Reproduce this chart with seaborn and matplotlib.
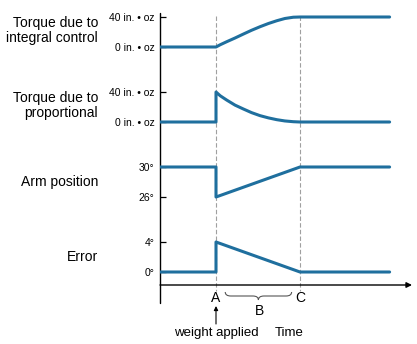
import numpy as np
import pandas as pd
import seaborn as sns
import matplotlib.pyplot as plt
from matplotlib import transforms
from matplotlib.path import Path
from matplotlib.patches import PathPatch

sns.set_theme(style="white")
plt.rcParams["font.family"] = ["Liberation Sans", "DejaVu Sans"]
plt.rcParams["text.color"] = "black"

# ---- event times (A: weight applied, C: error removed) ----
t_A, t_C, t_end, t_max = 2.0, 5.0, 8.2, 9.0

# ---- traces ----
integral_t = [0.0, 2.0, 2.15, 2.38, 2.68, 2.98, 3.27, 3.57, 3.87, 4.17, 4.46, 4.76, 5.0, 8.2]
integral_v = [0, 0, 3, 7, 12, 17.3, 22.3, 27, 31.3, 35, 38, 39.7, 40, 40]

prop_t = [0.0, 2.0, 2.0, 2.15, 2.38, 2.68, 2.98, 3.27, 3.57, 3.87, 4.17, 4.46, 4.76, 5.0, 8.2]
prop_v = [0, 0, 40, 35, 29.3, 22.5, 17.3, 12.5, 8.5, 5.5, 3.1, 1.4, 0.4, 0, 0]

arm_t = [0.0, 2.0, 2.0, 5.0, 8.2]
arm_v = [30, 30, 26, 30, 30]

err_t = [0.0, 2.0, 2.0, 5.0, 8.2]
err_v = [0, 0, 4, 0, 0]

# ---- axis levels and labels ----
levels = [(0, 40), (0, 40), (26, 30), (0, 4)]
tick_labels = [
    ["0 in. \u2022 oz", "40 in. \u2022 oz"],
    ["0 in. \u2022 oz", "40 in. \u2022 oz"],
    ["26\u00b0", "30\u00b0"],
    ["0\u00b0", "4\u00b0"],
]
row_titles = ["Torque due to\nintegral control", "Torque due to\nproportional",
              "Arm position", "Error"]
title_rows = [30.5, 105.5, 182, 257]

series = [(integral_t, integral_v), (prop_t, prop_v), (arm_t, arm_v), (err_t, err_v)]

BLUE = "#1f6f9e"
W, H = 417, 344
fig = plt.figure(figsize=(W / 100, H / 100), dpi=100)

# overlay in pixel rows for the frame, markers and annotations
ov = fig.add_axes([0, 0, 1, 1])
ov.set_xlim(0, W)
ov.set_ylim(H, 0)
ov.axis("off")
ov.set_zorder(0)

left, width, row_h = 160, 252, 75
panels = []
for k, ((tt, vv), (lo, hi), labs) in enumerate(zip(series, levels, tick_labels)):
    ax = fig.add_axes([left / W, 1 - (2 + row_h * (k + 1)) / H, width / W, row_h / H])
    ax.set_zorder(1)
    ax.patch.set_alpha(0)
    df = pd.DataFrame({"t": tt, "v": vv})
    sns.lineplot(data=df, x="t", y="v", ax=ax, sort=False, estimator=None,
                 color=BLUE, linewidth=2.2)
    span = hi - lo
    ax.set_xlim(0, t_max)
    ax.set_ylim(lo - span, hi + 0.5 * span)
    ax.set_yticks([lo, hi])
    ax.set_yticklabels(labs)
    ax.set_xticks([])
    ax.set_xlabel("")
    ax.set_ylabel("")
    ax.tick_params(axis="y", direction="in", length=4, width=0.9, pad=4,
                   labelsize=7.5, colors="black", left=True)
    for s in ax.spines.values():
        s.set_visible(False)
    ov.text(98, title_rows[k], row_titles[k], ha="right", va="center",
            fontsize=10, linespacing=1.1)
    panels.append(ax)

blend = transforms.blended_transform_factory(panels[0].transData, ov.transData)

# vertical frame line and time axis arrow
ov.plot([0, 0], [13, 303], transform=blend, color="black", lw=1.0, clip_on=False)
ov.annotate("", xy=(t_max, 285), xytext=(0, 285), xycoords=blend, textcoords=blend,
            arrowprops=dict(arrowstyle="-|>", color="black", lw=1.0,
                            mutation_scale=8, shrinkA=0, shrinkB=0))

# event markers
for t in (t_A, t_C):
    ov.plot([t, t], [16, 291], transform=blend, color="#a0a0a0", lw=0.8,
            ls=(0, (4, 2)), zorder=0)
ov.text(t_A, 298, "A", transform=blend, ha="center", va="center", fontsize=10)
ov.text(t_C, 298, "C", transform=blend, ha="center", va="center", fontsize=10)
ov.text((t_A + t_C) / 2 + 0.05, 311, "B", transform=blend, ha="center", va="center", fontsize=10)

# brace spanning interval B
x0, x1 = t_A + 0.33, t_C - 0.3
xm = (x0 + x1) / 2
yb, ye, yc = 296, 292, 300
verts = [(x0, ye), (x0, yb), (x0 + 0.2, yb), (xm - 0.2, yb), (xm, yb), (xm, yc),
         (xm, yb), (xm + 0.2, yb), (x1 - 0.2, yb), (x1, yb), (x1, ye)]
codes = [Path.MOVETO, Path.CURVE3, Path.CURVE3, Path.LINETO, Path.CURVE3, Path.CURVE3,
         Path.CURVE3, Path.CURVE3, Path.LINETO, Path.CURVE3, Path.CURVE3]
ov.add_patch(PathPatch(Path(verts, codes), transform=blend, fill=False,
                       edgecolor="#555555", lw=0.8))

# weight applied pointer and time label
ov.annotate("", xy=(t_A, 306), xytext=(t_A, 324), xycoords=blend, textcoords=blend,
            arrowprops=dict(arrowstyle="-|>", color="black", lw=0.8,
                            mutation_scale=6, shrinkA=0, shrinkB=0))
ov.text(t_A, 333, "weight applied", transform=blend, ha="center", va="center", fontsize=9.5)
ov.text(t_C - 0.4, 333, "Time", transform=blend, ha="center", va="center", fontsize=9.5)

fig.savefig("out.png", dpi=100)
